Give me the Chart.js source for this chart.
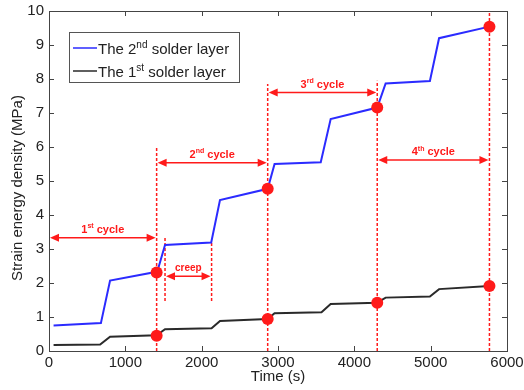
<!DOCTYPE html>
<html>
<head>
<meta charset="utf-8">
<script src="https://cdn.jsdelivr.net/npm/chart.js@4/dist/chart.umd.min.js"></script>
<style>
  html, body { margin: 0; padding: 0; background: #fff; }
</style>
</head>
<body>
<canvas id="chart" width="524" height="390"></canvas>
<script>
// strain energy density vs time
const layer2Time   = [60, 680, 800, 1410, 1430, 1520, 2125, 2240, 2865, 2955, 3560, 3690, 4300, 4410, 4990, 5110, 5770];
const layer2Energy = [0.75, 0.82, 2.07, 2.33, 2.42, 3.12, 3.19, 4.44, 4.77, 5.50, 5.55, 6.82, 7.16, 7.87, 7.94, 9.20, 9.54];
const layer1Time   = [60, 670, 800, 1410, 1520, 2130, 2240, 2865, 2955, 3570, 3690, 4300, 4410, 4990, 5110, 5770];
const layer1Energy = [0.18, 0.19, 0.42, 0.46, 0.64, 0.67, 0.88, 0.94, 1.11, 1.14, 1.38, 1.42, 1.57, 1.60, 1.82, 1.91];

// ends of each loading cycle
const cycleEnds      = [1410, 2865, 4300, 5770];
const cycleEndLayer2 = [2.31, 4.77, 7.16, 9.54];
const cycleEndLayer1 = [0.45, 0.94, 1.42, 1.91];
const cycleLineTops  = [6.0, 7.85, 7.95, 10];

const creepTimes  = [1520, 2130];
const creepTops   = [3.36, 3.22];
const creepBottom = 1.47;
const creepLevel  = 2.2;

const arrowFrom   = [0, 1410, 2865, 4300];
const arrowTo     = [1410, 2865, 4300, 5770];
const arrowLevel  = [3.33, 5.54, 7.6, 5.62];
const cycleNums   = ['1', '2', '3', '4'];
const cycleSups   = ['st', 'nd', 'rd', 'th'];

const xMin = 0, xMax = 6000, xStep = 1000;
const yMin = 0, yMax = 10, yStep = 1;

const RED = '#ff1a1a';
const BLUE = '#2b2bff';
const BLACK = '#2a2a2a';
const FONT = '"Liberation Sans", Arial, sans-serif';

function pts(xs, ys) {
  return xs.map((x, i) => ({ x: x, y: ys[i] }));
}

const datasets = [];
datasets.push({
  label: 'markers',
  data: pts(cycleEnds, cycleEndLayer2).concat(pts(cycleEnds, cycleEndLayer1)),
  showLine: false,
  pointRadius: 6,
  pointBackgroundColor: RED,
  pointBorderColor: RED,
  pointBorderWidth: 0
});
datasets.push({
  label: 'The 2nd solder layer',
  data: pts(layer2Time, layer2Energy),
  borderColor: BLUE,
  borderWidth: 2,
  pointRadius: 0,
  tension: 0
});
datasets.push({
  label: 'The 1st solder layer',
  data: pts(layer1Time, layer1Energy),
  borderColor: BLACK,
  borderWidth: 2,
  pointRadius: 0,
  tension: 0
});
cycleEnds.forEach((t, i) => {
  datasets.push({
    label: 'cycle end',
    data: [{ x: t, y: 0 }, { x: t, y: cycleLineTops[i] }],
    borderColor: RED,
    borderWidth: 1.5,
    borderDash: [3, 2],
    pointRadius: 0
  });
});
creepTimes.forEach((t, i) => {
  datasets.push({
    label: 'creep',
    data: [{ x: t, y: creepBottom }, { x: t, y: creepTops[i] }],
    borderColor: RED,
    borderWidth: 1.5,
    borderDash: [3, 2],
    pointRadius: 0
  });
});

// double headed arrow between two times at a given level
function drawArrow(ctx, xs, ys, a, b, level) {
  const x1 = xs.getPixelForValue(a) + 1;
  const x2 = xs.getPixelForValue(b) - 1;
  const y = ys.getPixelForValue(level);
  ctx.strokeStyle = RED;
  ctx.fillStyle = RED;
  ctx.lineWidth = 1.5;
  ctx.beginPath();
  ctx.moveTo(x1 + 6, y);
  ctx.lineTo(x2 - 6, y);
  ctx.stroke();
  ctx.beginPath();
  ctx.moveTo(x1, y); ctx.lineTo(x1 + 9, y - 4); ctx.lineTo(x1 + 9, y + 4); ctx.closePath();
  ctx.fill();
  ctx.beginPath();
  ctx.moveTo(x2, y); ctx.lineTo(x2 - 9, y - 4); ctx.lineTo(x2 - 9, y + 4); ctx.closePath();
  ctx.fill();
}

function drawSupText(ctx, x, y, base, sup, rest, size, weight, align) {
  const f = weight + ' ' + size + 'px ' + FONT;
  const supSize = Math.round(size * 0.68);
  const fs = weight + ' ' + supSize + 'px ' + FONT;
  ctx.font = f;
  const w1 = ctx.measureText(base).width;
  const w3 = ctx.measureText(rest).width;
  ctx.font = fs;
  const w2 = ctx.measureText(sup).width;
  let sx = x;
  if (align === 'center') sx = x - (w1 + w2 + w3) / 2;
  ctx.textAlign = 'left';
  ctx.textBaseline = 'alphabetic';
  ctx.font = f;
  ctx.fillText(base, sx, y);
  ctx.font = fs;
  ctx.fillText(sup, sx + w1, y - size * 0.4);
  ctx.font = f;
  ctx.fillText(rest, sx + w1 + w2, y);
}

const annotations = {
  id: 'annotations',
  afterDatasetsDraw(chart) {
    const ctx = chart.ctx;
    const xs = chart.scales.x, ys = chart.scales.y;
    ctx.save();
    arrowFrom.forEach((a, i) => {
      drawArrow(ctx, xs, ys, a, arrowTo[i], arrowLevel[i]);
      const cx = (xs.getPixelForValue(a) + xs.getPixelForValue(arrowTo[i])) / 2;
      const cy = ys.getPixelForValue(arrowLevel[i]) - 5;
      ctx.fillStyle = RED;
      drawSupText(ctx, cx, cy, cycleNums[i], cycleSups[i], ' cycle', 11, 'bold', 'center');
    });
    drawArrow(ctx, xs, ys, creepTimes[0], creepTimes[1], creepLevel);
    const cx = (xs.getPixelForValue(creepTimes[0]) + xs.getPixelForValue(creepTimes[1])) / 2;
    ctx.fillStyle = RED;
    drawSupText(ctx, cx, ys.getPixelForValue(creepLevel) - 5, 'creep', '', '', 10, 'bold', 'center');
    ctx.restore();
  },
  afterDraw(chart) {
    const ctx = chart.ctx;
    const xs = chart.scales.x, ys = chart.scales.y;
    // plot box from the scales themselves
    const L = Math.round(xs.getPixelForValue(xMin));
    const R = Math.round(xs.getPixelForValue(xMax));
    const T = Math.round(ys.getPixelForValue(yMax));
    const B = Math.round(ys.getPixelForValue(yMin));
    ctx.save();
    ctx.strokeStyle = '#444';
    ctx.lineWidth = 1;
    ctx.strokeRect(L + 0.5, T + 0.5, R - L, B - T);
    ctx.beginPath();
    for (let v = xMin; v <= xMax; v += xStep) {
      const px = Math.round(xs.getPixelForValue(v)) + 0.5;
      ctx.moveTo(px, B); ctx.lineTo(px, B - 5);
      ctx.moveTo(px, T); ctx.lineTo(px, T + 5);
    }
    for (let v = yMin; v <= yMax; v += yStep) {
      const py = Math.round(ys.getPixelForValue(v)) + 0.5;
      ctx.moveTo(L, py); ctx.lineTo(L + 5, py);
      ctx.moveTo(R, py); ctx.lineTo(R - 5, py);
    }
    ctx.stroke();

    // axis titles
    ctx.fillStyle = '#222';
    ctx.font = '15px ' + FONT;
    ctx.textAlign = 'center';
    ctx.textBaseline = 'middle';
    ctx.fillText('Time (s)', (L + R) / 2, B + 26);
    ctx.save();
    ctx.translate(18, (T + B) / 2 + 7);
    ctx.rotate(-Math.PI / 2);
    ctx.fillText('Strain energy density (MPa)', 0, 0);
    ctx.restore();

    // legend
    const lx = L + 20, ly = T + 21;
    ctx.fillStyle = '#fff';
    ctx.fillRect(lx, ly, 170, 50);
    ctx.strokeStyle = '#555';
    ctx.strokeRect(lx + 0.5, ly + 0.5, 170, 50);
    const rows = [
      { color: BLUE, base: 'The 2', sup: 'nd' },
      { color: BLACK, base: 'The 1', sup: 'st' }
    ];
    rows.forEach((r, i) => {
      const y = ly + 16 + i * 23;
      ctx.strokeStyle = r.color;
      ctx.lineWidth = 1.5;
      ctx.beginPath();
      ctx.moveTo(lx + 4, y); ctx.lineTo(lx + 28, y);
      ctx.stroke();
      ctx.fillStyle = '#222';
      drawSupText(ctx, lx + 29, y + 6, r.base, r.sup, ' solder layer', 15, 'normal', 'left');
    });
    ctx.restore();
  }
};

new Chart(document.getElementById('chart'), {
  type: 'line',
  data: { datasets: datasets },
  options: {
    responsive: false,
    animation: false,
    devicePixelRatio: 1,
    layout: { padding: { top: 11, right: 17, left: 0, bottom: 0 } },
    plugins: { legend: { display: false }, tooltip: { enabled: false } },
    scales: {
      x: {
        type: 'linear',
        min: xMin, max: xMax,
        grid: { display: false, drawTicks: false },
        border: { display: false },
        ticks: { stepSize: xStep, color: '#222', padding: 3, maxRotation: 0,
                 callback: v => String(v),
                 font: { size: 15, family: FONT } },
        afterFit(scale) {
          scale.height = 39;
          scale.paddingLeft = 0;
          scale.paddingRight = 0;
        }
      },
      y: {
        min: yMin, max: yMax,
        grid: { display: false, drawTicks: false },
        border: { display: false },
        ticks: { stepSize: yStep, color: '#222', padding: 5,
                 font: { size: 15, family: FONT } },
        afterFit(scale) {
          scale.width = 49;
          scale.paddingTop = 0;
          scale.paddingBottom = 0;
        }
      }
    }
  },
  plugins: [annotations]
});
</script>
</body>
</html>
